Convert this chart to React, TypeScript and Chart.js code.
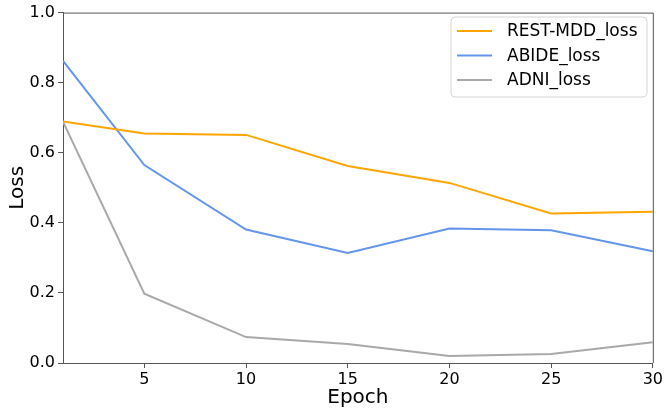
import React, { useEffect, useRef } from "react";
import { Chart, registerables } from "chart.js";

Chart.register(...registerables);

const epochs = [1, 5, 10, 15, 20, 25, 30];
const restMddLoss = [0.689, 0.655, 0.651, 0.562, 0.514, 0.427, 0.432];
const abideLoss = [0.862, 0.565, 0.381, 0.314, 0.384, 0.379, 0.319];
const adniLoss = [0.689, 0.198, 0.074, 0.054, 0.02, 0.026, 0.059];
const xTicks = [5, 10, 15, 20, 25, 30];
const seriesNames = ["REST-MDD_loss", "ABIDE_loss", "ADNI_loss"];
const seriesColors = ["#FFA500", "#6495ED", "#A9A9A9"];

const FONT = "'DejaVu Sans', sans-serif";

const framePlugin = {
  id: "frameAndLegend",
  afterDraw(chart: any) {
    const { ctx, chartArea } = chart;
    const { left, right, top, bottom } = chartArea;
    ctx.save();
    ctx.strokeStyle = "#555";
    ctx.lineWidth = 1;
    ctx.beginPath();
    ctx.moveTo(left, top + 0.5);
    ctx.lineTo(right + 0.5, top + 0.5);
    ctx.lineTo(right + 0.5, bottom);
    ctx.stroke();

    // legend box (matplotlib style, upper right)
    const bx = 451, by = 17, bw = 196, bh = 80;
    const r = 4;
    ctx.beginPath();
    ctx.moveTo(bx + r, by);
    ctx.lineTo(bx + bw - r, by);
    ctx.quadraticCurveTo(bx + bw, by, bx + bw, by + r);
    ctx.lineTo(bx + bw, by + bh - r);
    ctx.quadraticCurveTo(bx + bw, by + bh, bx + bw - r, by + bh);
    ctx.lineTo(bx + r, by + bh);
    ctx.quadraticCurveTo(bx, by + bh, bx, by + bh - r);
    ctx.lineTo(bx, by + r);
    ctx.quadraticCurveTo(bx, by, bx + r, by);
    ctx.closePath();
    ctx.fillStyle = "rgba(255,255,255,0.85)";
    ctx.fill();
    ctx.strokeStyle = "#d6d6d6";
    ctx.stroke();

    const rows = [31, 55.5, 80];
    ctx.font = `17px ${FONT}`;
    ctx.textBaseline = "middle";
    ctx.textAlign = "left";
    seriesNames.forEach((name, i) => {
      ctx.strokeStyle = seriesColors[i];
      ctx.lineWidth = 2;
      ctx.beginPath();
      ctx.moveTo(457, rows[i]);
      ctx.lineTo(492, rows[i]);
      ctx.stroke();
      ctx.fillStyle = "#000";
      ctx.fillText(name, 507, rows[i] + 1);
    });
    ctx.restore();
  },
};

export default function App() {
  const ref = useRef<HTMLCanvasElement>(null);
  useEffect(() => {
    document.body.style.margin = "0";
    const series = [restMddLoss, abideLoss, adniLoss];
    const chart = new Chart(ref.current!, {
      type: "line",
      data: {
        datasets: series.map((vals, i) => ({
          label: seriesNames[i],
          data: epochs.map((e, j) => ({ x: e, y: vals[j] })),
          borderColor: seriesColors[i],
          backgroundColor: seriesColors[i],
          borderWidth: 2,
          pointRadius: 0,
          tension: 0,
          fill: false,
        })),
      },
      options: {
        responsive: false,
        animation: false,
        layout: { padding: { top: 9, right: 9, left: 0, bottom: 0 } },
        plugins: { legend: { display: false }, tooltip: { enabled: false } },
        scales: {
          x: {
            type: "linear",
            min: 1,
            max: 30,
            afterBuildTicks: (scale: any) => {
              scale.ticks = xTicks.map((v) => ({ value: v }));
            },
            afterFit: (scale: any) => {
              scale.height = 49;
            },
            ticks: {
              color: "#000",
              font: { family: FONT, size: 16 },
              padding: 2,
              maxRotation: 0,
              autoSkip: false,
            },
            grid: { display: true, drawOnChartArea: false, tickLength: 5, color: "#555" },
            border: { display: true, color: "#555", width: 1 },
            title: {
              display: true,
              text: "Epoch",
              color: "#000",
              font: { family: FONT, size: 20 },
              padding: { top: 0, bottom: 2 },
            },
          },
          y: {
            min: 0,
            max: 1,
            afterFit: (scale: any) => {
              scale.width = 63;
            },
            ticks: {
              stepSize: 0.2,
              color: "#000",
              font: { family: FONT, size: 16 },
              padding: 3,
              callback: (v: any) => Number(v).toFixed(1),
            },
            grid: { display: true, drawOnChartArea: false, tickLength: 5, color: "#555" },
            border: { display: true, color: "#555", width: 1 },
            title: {
              display: true,
              text: "Loss",
              color: "#000",
              font: { family: FONT, size: 20 },
              padding: { top: 6, bottom: 0 },
            },
          },
        },
      },
      plugins: [framePlugin],
    });
    return () => chart.destroy();
  }, []);
  return (
    <div style={{ width: 665, height: 412 }}>
      <canvas ref={ref} width={665} height={412} />
    </div>
  );
}
